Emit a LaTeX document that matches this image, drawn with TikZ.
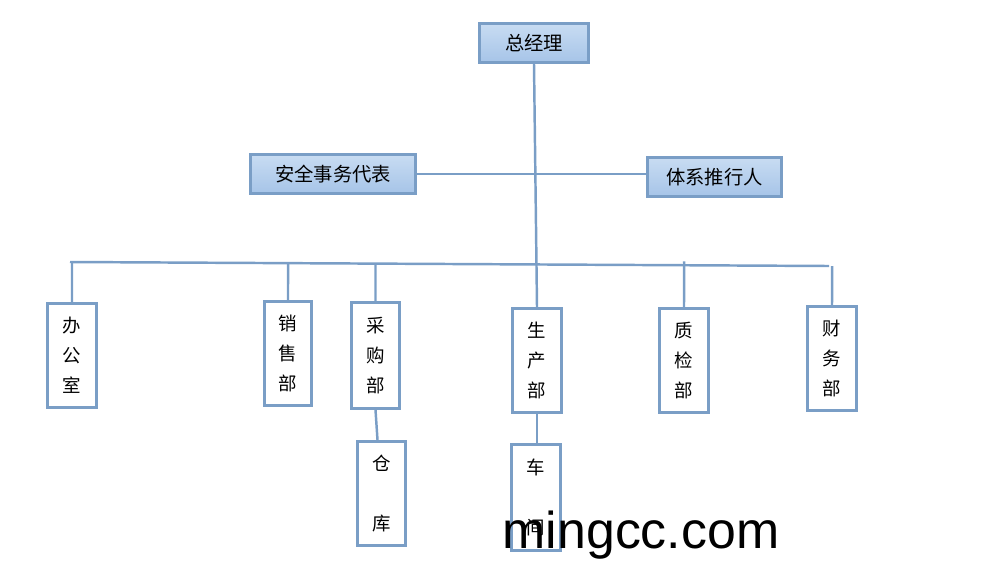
\documentclass[tikz,border=0pt]{standalone}
\usepackage{fontspec}
\usepackage{tikz}
\usepackage{xcolor}
\usetikzlibrary{calc}
\newfontfamily\cjk{Noto Sans CJK SC}
\newfontfamily\wmfont{Liberation Sans}

\definecolor{boxline}{HTML}{7A9EC6}
\definecolor{topfill}{HTML}{C8DCF2}
\definecolor{botfill}{HTML}{A6C4E8}

\begin{document}
\begin{tikzpicture}[x=0.02cm, y=-0.02cm,
        headbox/.style={draw=boxline, line width=1.7pt, top color=topfill, bottom color=botfill,
            inner sep=0pt, minimum height=0.78cm, font=\cjk\fontsize{11pt}{13pt}\selectfont},
        deptbox/.style={draw=boxline, line width=1.7pt, fill=white, inner sep=0pt, align=center,
            minimum width=0.98cm, minimum height=2.08cm, font=\cjk\fontsize{10.5pt}{17pt}\selectfont},
        link/.style={draw=boxline, line width=1.4pt}]
                % Fix the page to the reference size
                \useasboundingbox (0,0) rectangle (1000,578);

                % Top level boxes
                \node[headbox, minimum width=2.18cm] (zjl) at (534,43) {总经理};
                \node[headbox, minimum width=3.30cm] (aqdb) at (333,174) {安全事务代表};
                \node[headbox, minimum width=2.68cm] (txtx) at (714.5,177) {体系推行人};

                % Department boxes, text stacked vertically
                \node[deptbox] (bgs) at (72,355.5) {办\\公\\室};
                \node[deptbox, minimum width=0.94cm] (xsb) at (288,353.5) {销\\售\\部};
                \node[deptbox, minimum width=0.96cm, minimum height=2.12cm] (cgb) at (375.5,355.5) {采\\购\\部};
                \node[deptbox] (scb) at (537,360.5) {生\\产\\部};
                \node[deptbox] (zjb) at (684,360.5) {质\\检\\部};
                \node[deptbox] (cwb) at (832,358.5) {财\\务\\部};
                \node[deptbox, minimum width=0.96cm] (ck) at (381.5,493.5) {仓\\[0.6cm]库};
                \node[deptbox, minimum height=2.12cm] (cj) at (536,497.5) {车\\[0.6cm]间};

                % Bus line for the departments
                \coordinate (busL) at (70,262);
                \coordinate (busR) at (829,266);

                % Draw connectors
                % \draw[link] (fromWhere) -- (toWhere);
                \draw[link] (zjl.south) -- (scb.north);
                \draw[link] (aqdb.east) -- (aqdb.east -| txtx.west);
                \draw[link] (busL) -- (busR);
                \draw[link] (bgs.north) -- (intersection of busL--busR and bgs.north--bgs.south);
                \draw[link] (xsb.north) -- (intersection of busL--busR and xsb.north--xsb.south);
                \draw[link] (cgb.north) -- (intersection of busL--busR and cgb.north--cgb.south);
                \draw[link] (zjb.north) -- ($(intersection of busL--busR and zjb.north--zjb.south)+(0,-4)$);
                \draw[link] (cwb.north) -- (intersection of busL--busR and cwb.north--cwb.south);
                \draw[link] (cgb.south) -- ($(cgb.south |- ck.north)+(2,0)$);
                \draw[link] (scb.south) -- (scb.south |- cj.north);

                % Watermark over the picture
                \node[anchor=base, inner sep=0pt, font=\wmfont\fontsize{29.5pt}{32pt}\selectfont] (wm) at (641,548) {mingcc.com};
            \end{tikzpicture}
\end{document}
